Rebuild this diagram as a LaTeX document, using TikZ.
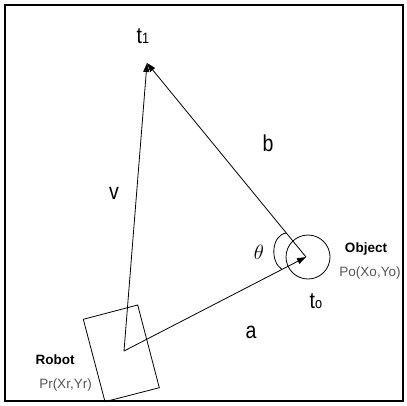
\documentclass[tikz,border=0pt]{standalone}
\usepackage{fontspec}
\setmainfont{Liberation Sans}
\usetikzlibrary{arrows.meta}
\definecolor{labgray}{HTML}{555555}
\tikzset{
  vec/.style={line width=0.8pt,-{Triangle[length=9pt,width=6pt]}},
  thin/.style={line width=0.8pt},
  big/.style={font=\fontsize{23}{25}\selectfont,inner sep=0pt,xscale=0.85},
  small/.style={font=\fontsize{13.5}{15}\selectfont\bfseries,inner sep=0pt},
  coord/.style={font=\fontsize{13.5}{15}\selectfont,text=labgray,inner sep=0pt}
}
\begin{document}
\begin{tikzpicture}[x=1pt,y=-1pt]
\useasboundingbox (0,0) rectangle (407,405);
\draw[line width=2pt] (5,5) rectangle (403,401);
% key points
\coordinate (R) at (124,351);
\coordinate (T1) at (147,63);
\coordinate (O) at (306,257);
% robot body
\draw[thin] (83.3,319.3) -- (137.7,305) -- (159.3,387.7) -- (105,401.7) -- cycle;
% object
\draw[thin] (308,257) circle (22);
% vectors
\draw[vec] (R) -- (T1);
\draw[vec] (R) -- (O);
\draw[vec] (O) -- (T1);
% theta arc
\draw[thin] (286.4,233) .. controls (271,235) and (270,262) .. (282,269.4);
% labels
\node[big] (lt1) at (143,36) {t\fontsize{15}{15}\selectfont 1};
\node[big] (lb) at (268,143) {b};
\node[big] (lv) at (114,193) {v};
\node[big] (la) at (251,332) {a};
\node[big] (lto) at (316,301) {t\fontsize{15}{15}\selectfont o};
\node[font=\fontsize{20}{22}\selectfont,inner sep=0pt] (lth) at (259,252) {$\theta$};
\node[small] (lobj) at (366,249) {Object};
\node[coord] (lpo) at (370,273) {Po(Xo,Yo)};
\node[small] (lrob) at (55,359.5) {Robot};
\node[coord] (lpr) at (65.5,385.3) {Pr(Xr,Yr)};
\end{tikzpicture}
\end{document}
